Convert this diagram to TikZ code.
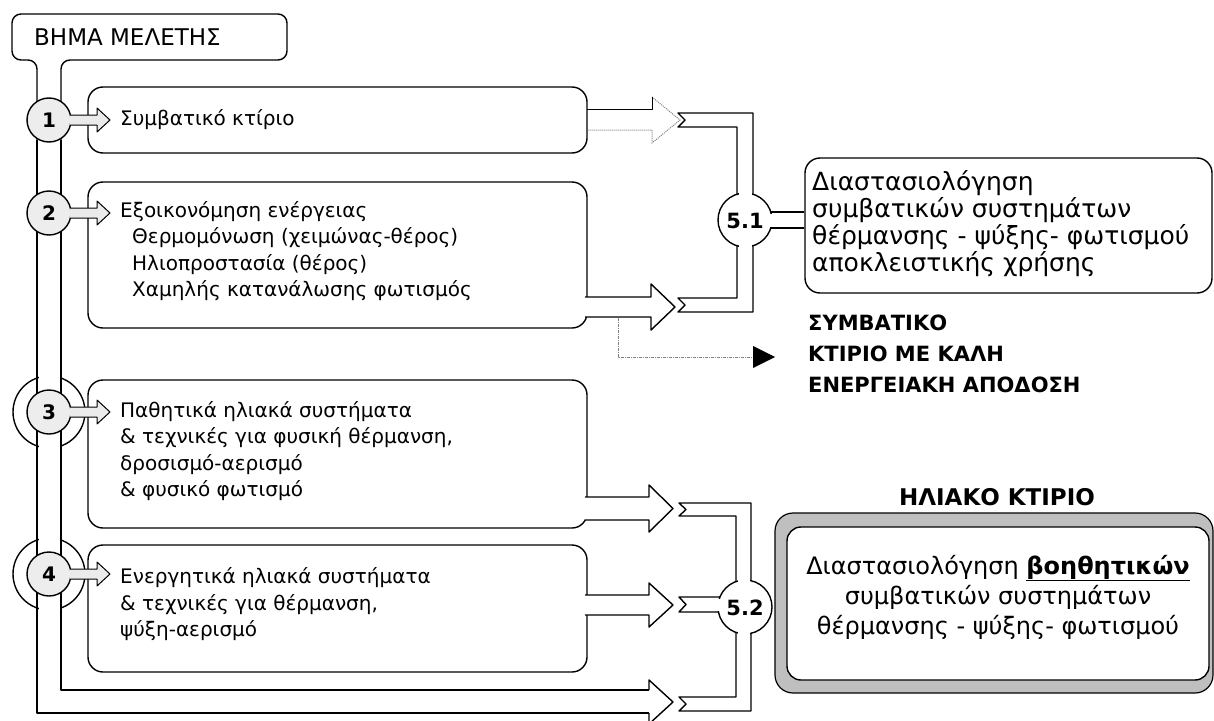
\documentclass[tikz,border=0pt]{standalone}
\usepackage{fontspec}
\setmainfont{DejaVu Sans}
\begin{document}
\begin{tikzpicture}[x=1pt,y=-1pt,
  ln/.style={line width=1.4pt, line join=round},
  thinln/.style={line width=1pt, line join=round},
  stagebox/.style={draw, line width=1.4pt, rounded corners=15pt, inner sep=0pt},
  stagetxt/.style={font=\fontsize{20}{26.5}\selectfont, inner sep=0pt, anchor=west, align=left},
  outtxt/.style={font=\fontsize{25}{27}\selectfont, inner sep=0pt, align=left},
  numcirc/.style={circle, draw, line width=1.4pt, fill=black!7, minimum size=44pt, inner sep=0pt, font=\bfseries\fontsize{20}{20}\selectfont},
  colcirc/.style={circle, draw, line width=1.4pt, fill=white, minimum size=54pt, inner sep=0pt, font=\bfseries\fontsize{20}{20}\selectfont},
  fadeln/.style={gray, line width=1pt, densely dotted},
  dashln/.style={gray, line width=1pt, densely dash dot},
  boldlbl/.style={font=\bfseries\fontsize{21}{31}\selectfont, inner sep=0pt, align=left}
]
\useasboundingbox (0,0) rectangle (1214,720);
\clip (0,0) rectangle (1214,720);

% halos of stages 3 and 4
\draw[ln, fill=white] (49,412) circle (36);
\fill[white] (38.5,370) rectangle (59.5,455);
\draw[ln, fill=white] (49,574) circle (36);
\fill[white] (38.5,532) rectangle (59.5,616);

% header box joined to the pipe
\draw[ln, rounded corners=9pt] (37,150) -- (37,60) -- (12,60) -- (12,14) -- (287,14) -- (287,60) -- (61,60) -- (61,150);
\node[anchor=west, inner sep=0pt, font=\fontsize{23}{23}\selectfont] (hdr) at (34,37) {ΒΗΜΑ ΜΕΛΕΤΗΣ};

% pipe
\draw[ln] (37,140) -- (37,713) -- (649,713);
\draw[ln] (61,140) -- (61,690) -- (649,690);
\draw[ln, fill=white] (649,690) -- (649,680) -- (673,702) -- (649,724) -- (649,713);

% stage boxes
\node[stagebox, minimum width=499pt, minimum height=66pt] (b1) at (337.5,120) {};
\node[stagebox, minimum width=499pt, minimum height=146pt] (b2) at (337.5,255) {};
\node[stagebox, minimum width=499pt, minimum height=148pt] (b3) at (337.5,454) {};
\node[stagebox, minimum width=499pt, minimum height=127pt] (b4) at (337.5,608.5) {};

% stage texts
\node[stagetxt] (t1) at (120,120) {Συμβατικό κτίριο};
\node[stagetxt] (t2) at (120,251) {Εξοικονόμηση ενέργειας\\\hspace*{12pt}Θερμομόνωση (χειμώνας-θέρος)\\\hspace*{12pt}Ηλιοπροστασία (θέρος)\\\hspace*{12pt}Χαμηλής κατανάλωσης φωτισμός};
\node[stagetxt] (t3) at (120,451) {Παθητικά ηλιακά συστήματα\\\& τεχνικές για φυσική θέρμανση,\\δροσισμό-αερισμό\\\& φυσικό φωτισμό};
\node[stagetxt] (t4) at (120,604.5) {Ενεργητικά ηλιακά συστήματα\\\& τεχνικές για θέρμανση,\\ψύξη-αερισμό};

% numbered circles
\node[numcirc] (c1) at (49,120) {1};
\node[numcirc] (c2) at (49,213) {2};
\node[numcirc] (c3) at (49,412) {3};
\node[numcirc] (c4) at (49,574) {4};

% small arrows circle -> box
\foreach \yy in {120,213,412,574}{
  \draw[thinln, fill=black!8] (70,\yy-5) -- (97,\yy-5) -- (97,\yy-12) -- (110,\yy) -- (97,\yy+12) -- (97,\yy+5) -- (70,\yy+5);
}

% output arrow of box 1 (faded)
\draw[fadeln] (652,97) -- (680,120) -- (652,143) -- (652,130) -- (587,130);
\draw[thinln] (587,109) -- (652,109) -- (652,97);

% output arrows of boxes 2,3,4
\draw[ln, fill=white] (585,297) -- (651,297) -- (651,284) -- (675,307) -- (651,330) -- (651,317) -- (585,317);
\draw[ln, fill=white] (585,497) -- (649,497) -- (649,485) -- (673,508.5) -- (649,532) -- (649,520) -- (585,520);
\draw[ln, fill=white] (585,595) -- (649,595) -- (649,583) -- (673,605) -- (649,627) -- (649,615) -- (585,615);

% dotted connector to "good energy" result
\coordinate (dstart) at (618,318);
\draw[dashln] (dstart) -- (618,357) -- (754,357);
\fill (753,346) -- (775,357) -- (753,368) -- cycle;
\node[boldlbl, anchor=west] (good) at (808,354) {ΣΥΜΒΑΤΙΚΟ\\ΚΤΙΡΙΟ ΜΕ ΚΑΛΗ\\ΕΝΕΡΓΕΙΑΚΗ ΑΠΟΔΟΣΗ};

% collector 5.1
\node[colcirc] (k1) at (745,220) {};
\fill[white] (738.5,185) rectangle (751.5,202);
\fill[white] (738.5,238) rectangle (751.5,255);
\fill[white] (762,213.5) rectangle (778,226.5);
\draw[ln] (737,194.2) -- (737,127) -- (678,127) -- (685,120) -- (678,113) -- (753,113) -- (753,194.2);
\draw[ln] (737,245.8) -- (737,298) -- (678,298) -- (685,305) -- (678,312) -- (753,312) -- (753,245.8);
\node[font=\bfseries\fontsize{21}{21}\selectfont] (k1t) at (745,221) {5.1};

% output box 5.1
\node[draw, line width=1.4pt, rounded corners=15pt, minimum width=407pt, minimum height=135pt, inner sep=0pt] (o1) at (1008.5,225.5) {};
\draw[ln] (770.8,212) -- (o1.west |- 0,212);
\draw[ln] (770.8,228) -- (o1.west |- 0,228);
\node[outtxt, anchor=west] (o1t) at (812,224) {Διαστασιολόγηση\\συμβατικών συστημάτων\\θέρμανσης - ψύξης- φωτισμού\\αποκλειστικής χρήσης};

% output box 5.2 (solar building)
\node[draw, line width=1.2pt, rounded corners=18pt, fill=black!25, minimum width=438pt, minimum height=180pt, inner sep=0pt] (o2s) at (994,603) {};
\node[draw, line width=1.4pt, rounded corners=14pt, fill=white, minimum width=422pt, minimum height=153pt, inner sep=0pt] (o2) at (998,603.5) {};
\node[outtxt, align=center, font=\fontsize{24}{30}\selectfont] (o2t) at (998,597) {Διαστασιολόγηση \textbf{\underline{βοηθητικών}}\\συμβατικών συστημάτων\\θέρμανσης - ψύξης- φωτισμού};
\node[font=\bfseries\fontsize{23}{23}\selectfont, inner sep=0pt] (solar) at (997,497) {ΗΛΙΑΚΟ ΚΤΙΡΙΟ};

% collector 5.2
\node[colcirc] (k2) at (745,607) {};
\fill[white] (737.5,572) rectangle (749.5,590);
\fill[white] (737.5,624) rectangle (749.5,642);
\fill[white] (712,598.5) rectangle (728,610.5);
\draw[ln] (736,581.5) -- (736,516) -- (679,516) -- (686,509.5) -- (679,503) -- (751,503) -- (751,580.7);
\draw[ln] (719.9,597) -- (679,597) -- (686,604.5) -- (679,612) -- (718.5,612);
\draw[ln] (736,632.5) -- (736,697) -- (679,697) -- (686,704) -- (679,711) -- (751,711) -- (751,633.3);
\node[font=\bfseries\fontsize{21}{21}\selectfont] (k2t) at (745,608) {5.2};
\end{tikzpicture}
\end{document}
